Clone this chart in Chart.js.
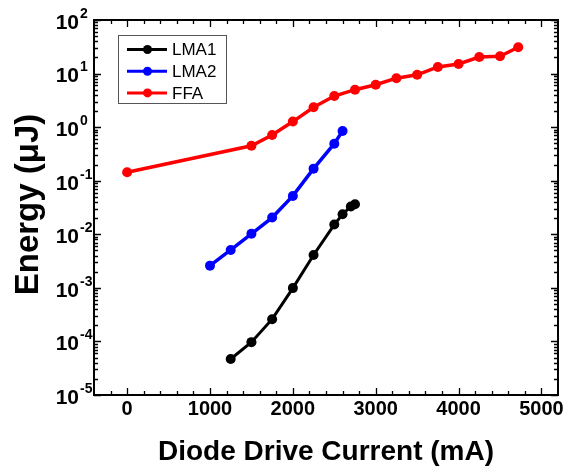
<!DOCTYPE html>
<html>
<head>
<meta charset="utf-8">
<script src="https://cdn.jsdelivr.net/npm/chart.js@4/dist/chart.umd.min.js"></script>
<style>
  html, body { margin: 0; padding: 0; background: #fff; }
</style>
</head>
<body>
<canvas id="energyChart" width="569" height="472"></canvas>
<script>
// data
const lma1X = [1250, 1500, 1750, 2000, 2250, 2500, 2600, 2700, 2750];
const lma1Y = [4.7e-5, 9.7e-5, 2.6e-4, 9.9e-4, 4.1e-3, 0.0152, 0.0237, 0.033, 0.0365];
const lma2X = [1000, 1250, 1500, 1750, 2000, 2250, 2500, 2600];
const lma2Y = [0.0026, 0.0051, 0.0102, 0.0205, 0.052, 0.168, 0.49, 0.85];
const ffaX = [0, 1500, 1750, 2000, 2250, 2500, 2750, 3000, 3250, 3500, 3750, 4000, 4250, 4500, 4720];
const ffaY = [0.144, 0.45, 0.715, 1.27, 2.35, 3.8, 5.0, 6.2, 8.2, 9.5, 13.3, 15.1, 20.4, 21.0, 31];
const seriesNames = ['LMA1', 'LMA2', 'FFA'];
const seriesColors = ['#000000', '#0000ff', '#ff0000'];
const xLabelTicks = [0, 1000, 2000, 3000, 4000, 5000];
const yExponents = [-5, -4, -3, -2, -1, 0, 1, 2];

const FONT = "'Liberation Sans', Arial, sans-serif";

function points(xs, ys) {
  return xs.map((x, i) => ({ x: x, y: ys[i] }));
}

function series(i, xs, ys, width) {
  return {
    label: seriesNames[i],
    data: points(xs, ys),
    borderColor: seriesColors[i],
    backgroundColor: seriesColors[i],
    pointBackgroundColor: seriesColors[i],
    borderWidth: width,
    pointRadius: 5,
    pointBorderWidth: 0,
    tension: 0
  };
}

// frame, inward ticks, tick labels, axis titles, legend
const decorations = {
  id: 'decorations',
  afterDraw(chart) {
    const ctx = chart.ctx;
    const a = chart.chartArea;
    const xs = chart.scales.x, ys = chart.scales.y;
    ctx.save();
    ctx.strokeStyle = '#000';
    ctx.lineWidth = 2;
    ctx.strokeRect(a.left, a.top, a.right - a.left, a.bottom - a.top);

    ctx.lineWidth = 1.3;
    ctx.beginPath();
    for (let v = -200; v < 5200; v += 200) {
      const px = Math.round(xs.getPixelForValue(v)) + 0.5;
      const len = v % 1000 === 0 ? 7 : 4;
      ctx.moveTo(px, a.bottom); ctx.lineTo(px, a.bottom - len);
      ctx.moveTo(px, a.top); ctx.lineTo(px, a.top + len);
    }
    yExponents.forEach(e => {
      for (let m = 1; m <= 9; m++) {
        if (e === 2 && m > 1) break;
        const py = Math.round(ys.getPixelForValue(m * Math.pow(10, e))) + 0.5;
        const len = m === 1 ? 7 : 4;
        ctx.moveTo(a.left, py); ctx.lineTo(a.left + len, py);
        ctx.moveTo(a.right, py); ctx.lineTo(a.right - len, py);
      }
    });
    ctx.stroke();

    ctx.fillStyle = '#000';
    ctx.font = 'bold 20px ' + FONT;
    ctx.textAlign = 'center';
    ctx.textBaseline = 'middle';
    xLabelTicks.forEach(v => {
      ctx.fillText(String(v), xs.getPixelForValue(v), a.bottom + 14);
    });

    yExponents.forEach(e => {
      const py = ys.getPixelForValue(Math.pow(10, e));
      ctx.font = 'bold 21px ' + FONT;
      ctx.textAlign = 'right';
      ctx.textBaseline = 'middle';
      ctx.fillText('10', 79, py + 3);
      ctx.font = 'bold 14px ' + FONT;
      ctx.textAlign = 'left';
      ctx.fillText(String(e), 80, py - 6);
    });

    ctx.font = 'bold 28px ' + FONT;
    ctx.textAlign = 'center';
    ctx.textBaseline = 'middle';
    ctx.fillText('Diode Drive Current (mA)', (a.left + a.right) / 2, 452);

    ctx.save();
    ctx.translate(29, (a.top + a.bottom) / 2 - 3);
    ctx.rotate(-Math.PI / 2);
    ctx.font = 'bold 33px ' + FONT;
    ctx.fillText('Energy (\u03bcJ)', 0, 0);
    ctx.restore();

    // legend
    ctx.strokeStyle = '#555';
    ctx.lineWidth = 1;
    ctx.strokeRect(118.5, 35.5, 108, 68);
    ctx.font = '17px ' + FONT;
    ctx.textAlign = 'left';
    chart.data.datasets.forEach((ds, i) => {
      const ry = 49.5 + i * 21.7;
      ctx.strokeStyle = ds.borderColor;
      ctx.lineWidth = 3;
      ctx.beginPath();
      ctx.moveTo(127, ry); ctx.lineTo(167, ry);
      ctx.stroke();
      ctx.fillStyle = ds.borderColor;
      ctx.beginPath();
      ctx.arc(147.5, ry, 4.5, 0, Math.PI * 2);
      ctx.fill();
      ctx.fillStyle = '#000';
      ctx.fillText(ds.label, 172, ry + 1);
    });
    ctx.restore();
  }
};

const ctx = document.getElementById('energyChart').getContext('2d');
const chart = new Chart(ctx, {
  type: 'line',
  data: {
    datasets: [
      series(0, lma1X, lma1Y, 3),
      series(1, lma2X, lma2Y, 3.5),
      series(2, ffaX, ffaY, 3.5)
    ]
  },
  options: {
    responsive: false,
    animation: false,
    layout: { padding: { top: 20, right: 11, left: 0, bottom: 0 } },
    plugins: { legend: { display: false }, tooltip: { enabled: false } },
    scales: {
      x: {
        type: 'linear', min: -400, max: 5200,
        grid: { display: false }, border: { display: false },
        ticks: { display: false },
        afterFit(s) { s.height = 77; }
      },
      y: {
        type: 'logarithmic', min: 1e-5, max: 100,
        grid: { display: false }, border: { display: false },
        ticks: { display: false },
        afterFit(s) { s.width = 94; }
      }
    }
  },
  plugins: [decorations]
});
</script>
</body>
</html>
